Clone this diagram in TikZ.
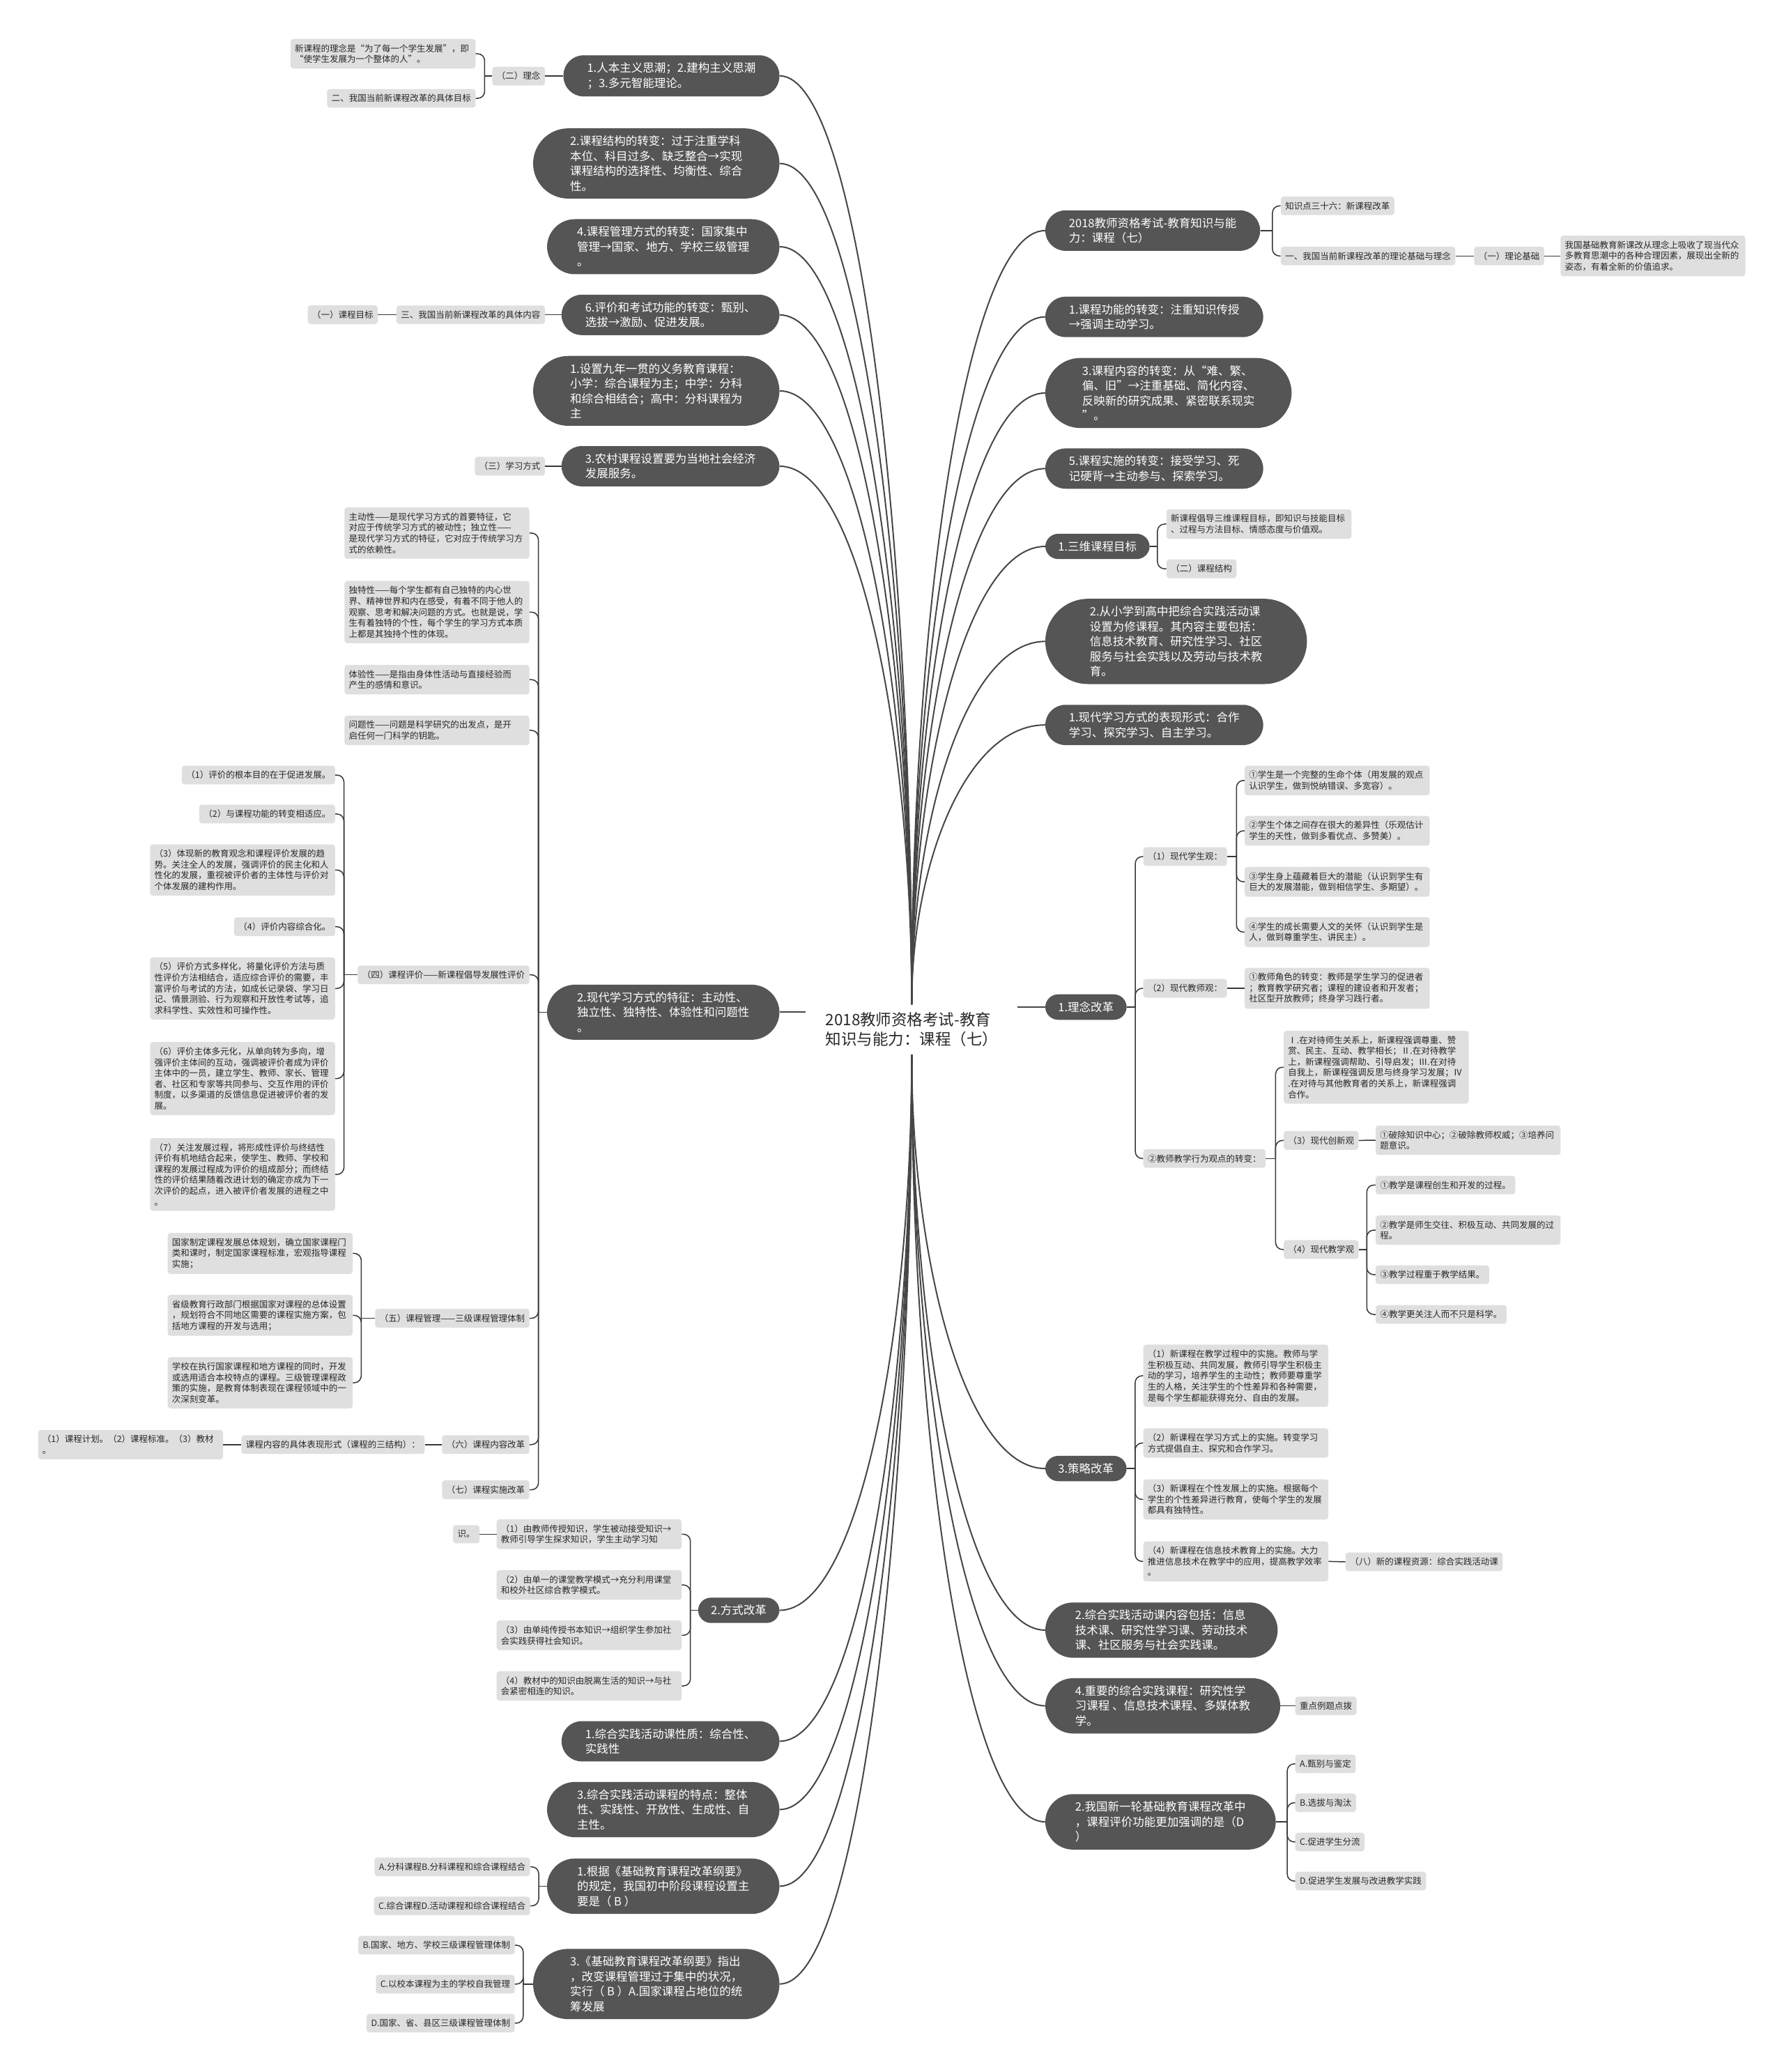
\documentclass[tikz,border=0pt]{standalone}
\usepackage{fontspec}
\setmainfont{Noto Sans CJK SC}
\usetikzlibrary{calc}
\definecolor{dkfill}{RGB}{85,85,85}
\definecolor{ltfill}{RGB}{223,223,223}
\definecolor{txt}{RGB}{40,40,40}
\definecolor{lnmain}{RGB}{70,70,70}
\definecolor{lnsub}{RGB}{55,55,55}
\newcommand\kidsL[3]{%
  \coordinate (jx) at (#2,0);
  \draw[subln] (#1.west) -- (#1.west -| jx);
  \foreach \k in {#3}{\draw[subln] (#1.west -| jx) |- (\k.east);}
}
\newcommand\kidsR[3]{%
  \coordinate (jx) at (#2,0);
  \draw[subln] (#1.east) -- (#1.east -| jx);
  \foreach \k in {#3}{\draw[subln] (#1.east -| jx) |- (\k.west);}
}
\newcommand\mainL[2]{\draw[mainln] (#1.east) .. controls +(60,0) and ($(#2)!0.5!(#2 |- #1.east)$) .. (#2);}
\newcommand\mainR[2]{\draw[mainln] (#1.west) .. controls +(-60,0) and ($(#2)!0.5!(#2 |- #1.west)$) .. (#2);}
\begin{document}
\begin{tikzpicture}[x=1.8963pt,y=-1.8963pt,
  dk/.style={rectangle, fill=dkfill, text=white, font=\fontsize{16.5}{21.5}\selectfont, align=left, inner ysep=10.5pt},
  dka/.style={dk, rounded corners=18.5pt, inner xsep=18.5pt},
  dkb/.style={dk, rounded corners=29pt, inner xsep=34pt},
  dkc/.style={dk, rounded corners=40pt, inner xsep=43pt},
  dkd/.style={dk, rounded corners=50.5pt, inner xsep=53pt},
  dke/.style={dk, rounded corners=61.5pt, inner xsep=64pt},
  lt/.style={rectangle, rounded corners=4pt, fill=ltfill, text=txt, font=\fontsize{12.5}{15.6}\selectfont, align=left, inner xsep=6.5pt, inner ysep=7.5pt},
  wr/.style={lt, text width=253pt, inner xsep=6.25pt},
  ctrn/.style={text=txt, font=\fontsize{22.5}{28}\selectfont, align=left, inner xsep=28pt, inner ysep=4pt},
  mainln/.style={draw=lnmain, line width=2pt},
  subln/.style={draw=lnsub, line width=1.5pt, rounded corners=10pt}]
\fill[white] (0,0) rectangle (1350,1568);
\path[use as bounding box] (0,0) rectangle (1350,1568);

% centre
\node[ctrn] (c) at (690,779) {2018教师资格考试-教育\\知识与能力：课程（七）};
\coordinate (ctop) at (690,760);
\coordinate (cbot) at (690,798);

% ---------------- left main nodes
\node[dkb,anchor=east] (L1) at (590,57.4) {1.人本主义思潮；2.建构主义思潮\\；3.多元智能理论。};
\node[dkd,anchor=east] (L2) at (590,123.7) {2.课程结构的转变：过于注重学科\\本位、科目过多、缺乏整合→实现\\课程结构的选择性、均衡性、综合\\性。};
\node[dkc,anchor=east] (L3) at (590,186.7) {4.课程管理方式的转变：国家集中\\管理→国家、地方、学校三级管理\\。};
\node[dkb,anchor=east] (L4) at (590,238.3) {6.评价和考试功能的转变：甄别、\\选拔→激励、促进发展。};
\node[dkd,anchor=east] (L5) at (590,295.8) {1.设置九年一贯的义务教育课程：\\小学：综合课程为主；中学：分科\\和综合相结合；高中：分科课程为\\主};
\node[dkb,anchor=east] (L6) at (590,352.8) {3.农村课程设置要为当地社会经济\\发展服务。};
\node[dkc,anchor=east] (L7) at (590,766) {2.现代学习方式的特征：主动性、\\独立性、独特性、体验性和问题性\\。};
\node[dka,anchor=east] (L8) at (590,1218.6) {2.方式改革};
\node[dkb,anchor=east] (L9) at (590,1317.7) {1.综合实践活动课性质：综合性、\\实践性};
\node[dkc,anchor=east] (L10) at (590,1369.4) {3.综合实践活动课程的特点：整体\\性、实践性、开放性、生成性、自\\主性。};
\node[dkc,anchor=east] (L11) at (590,1427.4) {1.根据《基础教育课程改革纲要》\\的规定，我国初中阶段课程设置主\\要是（ B ）};
\node[dkd,anchor=east] (L12) at (590,1501.4) {3.《基础教育课程改革纲要》指出\\，改变课程管理过于集中的状况，\\实行（ B ）A.国家课程占地位的统\\筹发展};

% ---------------- left grey nodes
\node[wr,anchor=east] (la) at (360,40.7) {新课程的理念是“为了每一个学生发展”，即\\“使学生发展为一个整体的人”。};
\node[lt,anchor=east] (lb) at (360,74.4) {二、我国当前新课程改革的具体目标};
\node[lt,anchor=east] (lc) at (412.5,57.6) {（二）理念};
\node[lt,anchor=east] (ld) at (286,238.2) {（一）课程目标};
\node[lt,anchor=east] (le) at (412.5,238.2) {三、我国当前新课程改革的具体内容};
\node[lt,anchor=east] (lf) at (412.5,352.8) {（三）学习方式};

\node[wr,anchor=east] (p1) at (400.8,403.4) {主动性——是现代学习方式的首要特征，它\\对应于传统学习方式的被动性；独立性——\\是现代学习方式的特征，它对应于传统学习方\\式的依赖性。};
\node[wr,anchor=east] (p2) at (400.8,463.2) {独特性——每个学生都有自己独特的内心世\\界、精神世界和内在感受，有着不同于他人的\\观察、思考和解决问题的方式。也就是说，学\\生有着独特的个性，每个学生的学习方式本质\\上都是其独持个性的体现。};
\node[wr,anchor=east] (p3) at (400.8,514.3) {体验性——是指由身体性活动与直接经验而\\产生的感情和意识。};
\node[wr,anchor=east] (p4) at (400.8,552.7) {问题性——问题是科学研究的出发点，是开\\启任何一门科学的钥匙。};
\node[lt,anchor=east] (p5) at (400.8,737.7) {（四）课程评价——新课程倡导发展性评价};
\node[lt,anchor=east] (e1) at (253.7,586.5) {（1）评价的根本目的在于促进发展。};
\node[lt,anchor=east] (e2) at (253.7,616) {（2）与课程功能的转变相适应。};
\node[wr,anchor=east] (e3) at (253.7,658.4) {（3）体现新的教育观念和课程评价发展的趋\\势。关注全人的发展，强调评价的民主化和人\\性化的发展，重视被评价者的主体性与评价对\\个体发展的建构作用。};
\node[lt,anchor=east] (e4) at (253.7,701.3) {（4）评价内容综合化。};
\node[wr,anchor=east] (e5) at (253.7,748) {（5）评价方式多样化，将量化评价方法与质\\性评价方法相结合，适应综合评价的需要，丰\\富评价与考试的方法，如成长记录袋、学习日\\记、情景测验、行为观察和开放性考试等，追\\求科学性、实效性和可操作性。};
\node[wr,anchor=east] (e6) at (253.7,816.2) {（6）评价主体多元化，从单向转为多向，增\\强评价主体间的互动，强调被评价者成为评价\\主体中的一员，建立学生、教师、家长、管理\\者、社区和专家等共同参与、交互作用的评价\\制度，以多渠道的反馈信息促进被评价者的发\\展。};
\node[wr,anchor=east] (e7) at (253.7,888.8) {（7）关注发展过程，将形成性评价与终结性\\评价有机地结合起来，使学生、教师、学校和\\课程的发展过程成为评价的组成部分；而终结\\性的评价结果随着改进计划的确定亦成为下一\\次评价的起点，进入被评价者发展的进程之中\\。};
\node[lt,anchor=east] (p6) at (400.8,997.6) {（五）课程管理——三级课程管理体制};
\node[wr,anchor=east] (m1) at (267,948.5) {国家制定课程发展总体规划，确立国家课程门\\类和课时，制定国家课程标准，宏观指导课程\\实施；};
\node[wr,anchor=east] (m2) at (267,995.4) {省级教育行政部门根据国家对课程的总体设置\\，规划符合不同地区需要的课程实施方案，包\\括地方课程的开发与选用；};
\node[wr,anchor=east] (m3) at (267,1046.4) {学校在执行国家课程和地方课程的同时，开发\\或选用适合本校特点的课程。三级管理课程政\\策的实施，是教育体制表现在课程领域中的一\\次深刻变革。};
\node[lt,anchor=east] (p7) at (400.8,1093.2) {（六）课程内容改革};
\node[lt,anchor=east] (n1) at (321.5,1093.2) {课程内容的具体表现形式（课程的三结构）：};
\node[wr,anchor=east] (n2) at (168.9,1093.2) {（1）课程计划。（2）课程标准。（3）教材\\。};
\node[lt,anchor=east] (p8) at (400.8,1127.4) {（七）课程实施改革};

\node[lt,anchor=east] (f0) at (363,1161) {识。};
\node[wr,anchor=east] (f1) at (516,1161) {（1）由教师传授知识，学生被动接受知识→\\教师引导学生探求知识，学生主动学习知};
\node[wr,anchor=east] (f2) at (516,1199.4) {（2）由单一的课堂教学模式→充分利用课堂\\和校外社区综合教学模式。};
\node[wr,anchor=east] (f3) at (516,1237.5) {（3）由单纯传授书本知识→组织学生参加社\\会实践获得社会知识。};
\node[wr,anchor=east] (f4) at (516,1275.8) {（4）教材中的知识由脱离生活的知识→与社\\会紧密相连的知识。};

\node[lt,anchor=east] (q1) at (401.3,1412.7) {A.分科课程B.分科课程和综合课程结合};
\node[lt,anchor=east] (q2) at (401.3,1442.3) {C.综合课程D.活动课程和综合课程结合};
\node[lt,anchor=east] (r1) at (389.7,1472) {B.国家、地方、学校三级课程管理体制};
\node[lt,anchor=east] (r2) at (389.7,1501.5) {C.以校本课程为主的学校自我管理};
\node[lt,anchor=east] (r3) at (389.7,1531) {D.国家、省、县区三级课程管理体制};

% ---------------- right main nodes
\node[dkb,anchor=west] (R1) at (791,174.5) {2018教师资格考试-教育知识与能\\力：课程（七）};
\node[dkb,anchor=west] (R2) at (791,239.8) {1.课程功能的转变：注重知识传授\\→强调主动学习。};
\node[dkd,anchor=west] (R3) at (791,297.4) {3.课程内容的转变：从“难、繁、\\偏、旧”→注重基础、简化内容、\\反映新的研究成果、紧密联系现实\\”。};
\node[dkb,anchor=west] (R4) at (791,354.6) {5.课程实施的转变：接受学习、死\\记硬背→主动参与、探索学习。};
\node[dka,anchor=west] (R5) at (791,413.5) {1.三维课程目标};
\node[dke,anchor=west] (R6) at (791,485.4) {2.从小学到高中把综合实践活动课\\设置为修课程。其内容主要包括：\\信息技术教育、研究性学习、社区\\服务与社会实践以及劳动与技术教\\育。};
\node[dkb,anchor=west] (R7) at (791,548.6) {1.现代学习方式的表现形式：合作\\学习、探究学习、自主学习。};
\node[dka,anchor=west] (R8) at (791,762.1) {1.理念改革};
\node[dka,anchor=west] (R9) at (791,1111.3) {3.策略改革};
\node[dkc,anchor=west] (R10) at (791,1233.6) {2.综合实践活动课内容包括：信息\\技术课、研究性学习课、劳动技术\\课、社区服务与社会实践课。};
\node[dkc,anchor=west] (R11) at (791,1290.9) {4.重要的综合实践课程：研究性学\\习课程 、信息技术课程、多媒体教\\学。};
\node[dkc,anchor=west] (R12) at (791,1378.7) {2.我国新一轮基础教育课程改革中\\，课程评价功能更加强调的是（D\\）};

% ---------------- right grey nodes
\node[lt,anchor=west] (ka) at (969.2,155.8) {知识点三十六：新课程改革};
\node[lt,anchor=west] (kb) at (969.2,193.7) {一、我国当前新课程改革的理论基础与理念};
\node[lt,anchor=west] (kc) at (1115.5,193.7) {（一）理论基础};
\node[wr,anchor=west] (kd) at (1180.9,193.7) {我国基础教育新课改从理念上吸收了现当代众\\多教育思潮中的各种合理因素，展现出全新的\\姿态，有着全新的价值追求。};
\node[wr,anchor=west] (ke) at (882.7,396.6) {新课程倡导三维课程目标，即知识与技能目标\\、过程与方法目标、情感态度与价值观。};
\node[lt,anchor=west] (kf) at (882.7,430.4) {（二）课程结构};

\node[lt,anchor=west] (s1) at (865.2,648.2) {（1）现代学生观：};
\node[lt,anchor=west] (s2) at (865.2,747.9) {（2）现代教师观：};
\node[lt,anchor=west] (s3) at (865.2,876.7) {②教师教学行为观点的转变：};
\node[wr,anchor=west] (t1) at (941.9,590.6) {①学生是一个完整的生命个体（用发展的观点\\认识学生，做到悦纳错误、多宽容）。};
\node[wr,anchor=west] (t2) at (941.9,628.7) {②学生个体之间存在很大的差异性（乐观估计\\学生的天性，做到多看优点、多赞美）。};
\node[wr,anchor=west] (t3) at (941.9,667.3) {③学生身上蕴藏着巨大的潜能（认识到学生有\\巨大的发展潜能，做到相信学生、多期望）。};
\node[wr,anchor=west] (t4) at (941.9,705.4) {④学生的成长需要人文的关怀（认识到学生是\\人，做到尊重学生、讲民主）。};
\node[wr,anchor=west] (u1) at (941.9,747.9) {①教师角色的转变：教师是学生学习的促进者\\；教育教学研究者；课程的建设者和开发者；\\社区型开放教师；终身学习践行者。};
\node[wr,anchor=west] (v1) at (971.5,807.6) {Ⅰ.在对待师生关系上，新课程强调尊重、赞\\赏、民主、互动、教学相长；Ⅱ.在对待教学\\上，新课程强调帮助、引导启发；Ⅲ.在对待\\自我上，新课程强调反思与终身学习发展；Ⅳ\\.在对待与其他教育者的关系上，新课程强调\\合作。};
\node[lt,anchor=west] (v2) at (971.5,863) {（3）现代创新观};
\node[lt,anchor=west] (v3) at (971.5,945.6) {（4）现代教学观};
\node[wr,anchor=west] (w1) at (1041,862.9) {①破除知识中心；②破除教师权威；③培养问\\题意识。};
\node[lt,anchor=west] (x1) at (1041,896.8) {①教学是课程创生和开发的过程。};
\node[wr,anchor=west] (x2) at (1041,930.9) {②教学是师生交往、积极互动、共同发展的过\\程。};
\node[lt,anchor=west] (x3) at (1041,964.6) {③教学过程重于教学结果。};
\node[lt,anchor=west] (x4) at (1041,994.7) {④教学更关注人而不只是科学。};

\node[wr,anchor=west] (y1) at (865.2,1041.1) {（1）新课程在教学过程中的实施。教师与学\\生积极互动、共同发展，教师引导学生积极主\\动的学习，培养学生的主动性；教师要尊重学\\生的人格，关注学生的个性差异和各种需要，\\是每个学生都能获得充分、自由的发展。};
\node[wr,anchor=west] (y2) at (865.2,1092) {（2）新课程在学习方式上的实施。转变学习\\方式提倡自主、探究和合作学习。};
\node[wr,anchor=west] (y3) at (865.2,1134.7) {（3）新课程在个性发展上的实施。根据每个\\学生的个性差异进行教育，使每个学生的发展\\都具有独特性。};
\node[wr,anchor=west] (y4) at (865.2,1181.6) {（4）新课程在信息技术教育上的实施。大力\\推进信息技术在教学中的应用，提高教学效率\\。};
\node[lt,anchor=west] (y5) at (1018.2,1181.9) {（八）新的课程资源：综合实践活动课};
\node[lt,anchor=west] (z1) at (980.2,1290.9) {重点例题点拨};
\node[lt,anchor=west] (o1) at (980.2,1334.8) {A.甄别与鉴定};
\node[lt,anchor=west] (o2) at (980.2,1364.2) {B.选拔与淘汰};
\node[lt,anchor=west] (o3) at (980.2,1393.9) {C.促进学生分流};
\node[lt,anchor=west] (o4) at (980.2,1423.5) {D.促进学生发展与改进教学实践};

% ---------------- main connectors
\mainL{L1}{ctop}\mainL{L2}{ctop}\mainL{L3}{ctop}\mainL{L4}{ctop}\mainL{L5}{ctop}\mainL{L6}{ctop}
\mainL{L8}{cbot}\mainL{L9}{cbot}\mainL{L10}{cbot}\mainL{L11}{cbot}\mainL{L12}{cbot}
\draw[mainln] (L7.east) -- (L7.east -| c.west);
\mainR{R1}{ctop}\mainR{R2}{ctop}\mainR{R3}{ctop}\mainR{R4}{ctop}\mainR{R5}{ctop}\mainR{R6}{ctop}\mainR{R7}{ctop}
\mainR{R9}{cbot}\mainR{R10}{cbot}\mainR{R11}{cbot}\mainR{R12}{cbot}
\draw[mainln] (R8.west) -- (R8.west -| c.east);

% ---------------- sub connectors left
\draw[subln] (lc.east) -- (lc.east -| L1.west);
\kidsL{lc}{366.8}{la,lb}
\draw[subln] (le.east) -- (le.east -| L4.west);
\draw[subln] (ld.east) -- (le.west);
\draw[subln] (lf.east) -- (lf.east -| L6.west);
\kidsL{L7}{407.5}{p1,p2,p3,p4,p5,p6,p7,p8}
\kidsL{p5}{260.3}{e1,e2,e3,e4,e5,e6,e7}
\kidsL{p6}{273.4}{m1,m2,m3}
\draw[subln] (n1.east) -- (p7.west);
\draw[subln] (n2.east) -- (n1.west);
\kidsL{L8}{522.5}{f1,f2,f3,f4}
\draw[subln] (f0.east) -- (f1.west);
\kidsL{L11}{407.7}{q1,q2}
\kidsL{L12}{396}{r1,r2,r3}

% ---------------- sub connectors right
\kidsR{R1}{963}{ka,kb}
\draw[subln] (kb.east) -- (kc.west);
\draw[subln] (kc.east) -- (kd.west);
\kidsR{R5}{876}{ke,kf}
\kidsR{R8}{859.2}{s1,s2,s3}
\kidsR{s1}{935.8}{t1,t2,t3,t4}
\draw[subln] (s2.east) -- (u1.west);
\kidsR{s3}{965.4}{v1,v2,v3}
\draw[subln] (v2.east) -- (w1.west);
\kidsR{v3}{1034.4}{x1,x2,x3,x4}
\kidsR{R9}{859.1}{y1,y2,y3,y4}
\draw[subln] (y4.east) -- (y5.west);
\draw[subln] (R11.east) -- (z1.west);
\kidsR{R12}{974.2}{o1,o2,o3,o4}
\end{tikzpicture}
\end{document}
